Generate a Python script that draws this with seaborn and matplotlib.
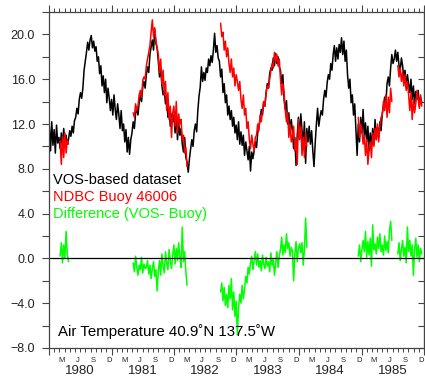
import numpy as np
import pandas as pd
import matplotlib
matplotlib.use("Agg")
import matplotlib.pyplot as plt
import matplotlib.dates as mdates
import matplotlib.ticker as mticker
from matplotlib.transforms import blended_transform_factory
import seaborn as sns

# Weekly air temperature (deg C), weeks counted from 1980-01-03, 52 per year
vos_1980 = [11.8, 9.6, 12.2, 10.1, 11.5, 9.4, 11.9, 10.3, 10.8, 9.8,
            11.2, 10.0, 11.6, 10.4, 11.0, 10.2,
            10.6, 11.4, 10.9, 11.8, 11.2, 12.3,
            12.6, 13.4, 12.9, 14.2, 14.8, 14.3,
            15.2, 16.8, 17.6, 18.4, 19.3,
            18.6, 19.5, 19.9, 18.8, 19.4, 18.5,
            18.9, 17.6, 18.0, 16.5, 17.2, 15.4, 16.3,
            14.8, 16.0, 13.9, 15.2, 14.3, 13.2]
vos_1981 = [14.2, 12.8, 14.6, 13.3, 12.4, 13.8,
            12.9, 11.6, 13.2, 11.4, 12.0,
            10.4, 11.5, 9.5, 10.8, 9.3, 10.6, 11.2,
            12.2, 11.6, 12.9, 13.5, 12.8,
            13.9, 14.6, 14.0, 15.3, 15.8,
            15.2, 16.4, 17.1, 16.6, 18.2, 18.9,
            19.5, 18.6, 20.4, 19.2, 18.8,
            17.6, 16.2, 17.0, 15.4, 14.6,
            15.0, 13.8, 14.5, 12.6, 13.4, 11.8, 12.9, 12.2]
vos_1982 = [12.8, 11.2, 13.0, 10.6, 12.1, 11.0,
            11.6, 10.2, 9.5, 10.8, 9.0, 8.6, 7.7,
            8.9, 9.8, 10.6, 10.0, 11.4,
            12.0, 11.3, 13.2, 14.5, 15.3,
            17.1, 15.8, 16.6, 15.9, 17.0,
            16.6, 17.8, 17.2, 18.1, 17.5,
            18.6, 20.1, 18.4, 19.0, 17.9,
            17.6, 16.2, 16.9, 14.8, 15.6,
            13.9, 14.6, 12.8, 13.6, 12.4,
            13.2, 11.8, 12.6, 11.2]
vos_1983 = [11.9, 10.6, 12.2, 10.2, 11.3,
            10.1, 11.0, 9.2, 10.4, 9.6,
            8.8, 10.0, 7.8, 9.5, 8.9,
            9.6, 10.4, 9.9, 11.2, 11.8,
            12.4, 13.3, 12.8, 14.0, 13.6,
            14.8, 15.6, 15.2, 16.5, 17.0,
            16.8, 17.9, 17.2, 18.3, 17.4, 18.0,
            17.1, 16.8, 15.6, 16.4, 14.2,
            13.3, 14.1, 12.0, 13.0, 11.2, 12.4,
            11.4, 9.8, 10.8, 8.3, 11.0]
vos_1984 = [12.6, 10.8, 12.9, 11.4, 10.2,
            12.2, 8.5, 11.6, 10.4, 11.8,
            10.2, 11.4, 9.6, 8.2, 10.3,
            12.0, 13.4, 11.8, 12.6, 13.2,
            12.8, 14.2, 15.0, 14.4, 15.7,
            16.4, 16.0, 17.4, 16.8, 18.2,
            19.0, 17.6, 18.8, 17.8, 19.1,
            18.4, 19.7, 18.2, 19.4, 17.6,
            18.6, 16.4, 15.2, 16.0, 13.9,
            14.6, 12.8, 13.8, 11.4, 9.2, 12.0, 10.4]
vos_1985 = [12.6, 11.2, 13.3, 10.8, 12.1,
            10.4, 11.8, 9.6, 11.2, 10.0,
            11.6, 10.2, 12.4, 10.6, 11.7,
            10.8, 12.2, 11.4, 12.9, 13.6,
            14.4, 13.8, 15.6, 16.2, 15.4,
            17.0, 18.2, 17.4, 17.8, 18.6,
            17.6, 18.4, 17.2, 16.8, 17.9,
            17.2, 16.0, 16.8, 15.2, 16.4,
            15.6, 14.8, 16.0, 14.2, 15.4, 13.8, 14.9,
            14.2, 15.0, 13.6, 14.4, 13.9]

# NDBC buoy 46006 segments (first week index of each segment)
buoy_start = [9, 70, 143, 258, 291]
buoy_1980 = [10.5, 8.4, 10.9, 9.0, 11.2, 9.4, 10.6, 10.2]
buoy_1981 = [13.0, 12.6, 13.8, 13.2, 13.6,
             14.6, 15.0, 14.4, 15.9, 16.2,
             16.0, 17.2, 17.8, 18.4, 19.0, 20.2,
             21.3, 19.8, 20.6, 19.4, 18.8,
             18.2, 16.6, 17.8, 15.6, 16.8,
             14.6, 15.8, 13.2, 14.8, 12.4, 13.6, 10.8, 13.0,
             13.6, 11.8, 14.0, 11.2, 12.9, 12.0,
             12.4, 10.6, 11.0, 9.4, 9.9, 8.2]
buoy_1982 = [21.0, 19.8, 20.2, 18.6, 19.4,
             18.0, 18.8, 17.4, 16.6, 17.8,
             16.2, 17.0, 15.4, 16.4, 15.8,
             15.0, 15.8, 14.2, 13.4, 14.6,
             12.8, 13.4, 11.6, 12.2, 10.6,
             9.8, 11.0, 10.2, 9.6, 10.8,
             11.0, 12.0, 11.4, 12.8, 12.2,
             13.2, 14.0, 13.6, 14.8, 15.4,
             15.2, 16.0, 16.8, 17.4, 17.0,
             18.4, 17.6, 18.2, 17.2, 17.8,
             16.0, 14.6, 15.6, 14.8, 13.2,
             12.2, 13.0, 10.8, 12.0, 10.4,
             11.0, 11.8, 9.6, 10.6, 8.4,
             12.4, 10.6, 11.8, 9.2, 10.8, 9.0, 11.2, 10.0]
buoy_1984 = [12.6, 10.8, 12.0, 11.4, 10.2,
             11.0, 9.2, 10.6, 8.4, 9.8,
             10.4, 9.0, 11.2, 10.0, 11.6,
             10.6, 12.0, 10.4, 11.8, 12.6,
             12.8, 14.0, 13.2, 14.6, 12.6,
             14.4, 13.0, 15.2, 14.0]
buoy_1985 = [17.2, 16.2, 17.0, 15.8, 16.6, 15.4, 16.4, 15.0, 15.8, 14.6,
             13.2, 14.8, 12.4, 14.2, 13.0, 13.8, 15.0, 14.2, 13.4, 14.6, 13.6]

# Difference VOS - buoy, same segments
diff_1980 = [0.2, 1.4, -0.4, 1.2, 0.0, 2.4, 0.4, -0.3]
diff_1981 = [-0.4, -1.2, 0.2, -0.8, -1.5, -0.6, -1.0, 0.1, -1.3, -0.5, -0.9,
             -0.8, -0.2, -1.4, -0.6, -1.8, -0.9, -0.3, -1.6, -1.0, -2.9,
             -1.1, -0.2, -1.5, 0.4, -0.7, -1.3, 0.6, -0.4, -1.0, 0.8, -0.2, -0.9,
             0.3, 1.2, -0.5, 0.9, -0.2, 1.4, 0.1, -0.8, 2.8, -0.3, 0.6, -1.2, -2.4]
diff_1982 = [-3.0, -2.2, -3.8, -2.6, -4.2,
             -3.2, -4.4, -2.4, -3.6, -1.8,
             -4.6, -3.0, -5.2, -3.8, -6.8,
             -4.4, -3.2, -4.0, -2.4, -3.6,
             -2.8, -1.6, -2.2, -0.8, -1.4,
             -0.4, 0.2, -1.0, -0.2, 0.6,
             -0.6, 0.4, -0.8, -0.2, -1.1, 0.3, -0.5, -0.9, 0.1, -0.7,
             -0.3, -1.2, 0.5, -0.6, -0.1, -1.5, -0.4, 0.6, -0.8, 0.2,
             0.8, 1.9, 0.3, 1.2, 0.5, 2.2, 0.9, 1.4, 0.2, 1.0,
             0.6, -2.0, 0.4, 1.5, -0.3, 0.9, 1.3,
             0.5, 1.4, -0.6, 0.8, 3.6, 1.0]
diff_1984 = [0.2, 1.2, -0.3, 0.8, 1.6, 0.6, 2.4, 0.1, 1.5, 0.3,
             1.8, -0.7, 3.0, 0.8, 1.3, 0.4, 1.9, 0.9, 2.2, 0.6,
             1.2, 0.3, 2.0, 0.7, 1.5, 0.5, 2.4, 3.3, 1.6]
diff_1985 = [0.4, 1.4, -0.2, 0.8, 1.6, 0.2, 1.0, -0.4, 2.8, 0.6,
             1.6, 0.2, 1.2, -1.5, 0.8, 1.8, 0.1, 1.2, -0.3, 0.9, 0.4]

years = [1980, 1981, 1982, 1983, 1984, 1985]
month_letters = {3: "M", 6: "J", 9: "S", 12: "D"}

start = pd.Timestamp("1980-01-03")


def week_dates(first, n):
    return start + pd.to_timedelta(7 * (first + np.arange(n)), unit="D")


def segments(starts, parts, name):
    frames = []
    for k, (s, vals) in enumerate(zip(starts, parts)):
        frames.append(pd.DataFrame({"date": week_dates(s, len(vals)),
                                    name: vals, "seg": k}))
    return pd.concat(frames, ignore_index=True)


vos_all = vos_1980 + vos_1981 + vos_1982 + vos_1983 + vos_1984 + vos_1985
vos = pd.DataFrame({"date": week_dates(0, len(vos_all)), "temp": vos_all})
buoy = segments(buoy_start, [buoy_1980, buoy_1981, buoy_1982, buoy_1984, buoy_1985], "temp")
diff = segments(buoy_start, [diff_1980, diff_1981, diff_1982, diff_1984, diff_1985], "diff")

sns.set_style("ticks")
plt.rcParams["font.family"] = ["Liberation Sans", "DejaVu Sans"]

fig = plt.figure(figsize=(4.25, 3.76), dpi=100)
ax = fig.add_axes([49 / 425, 28 / 376, 375 / 425, 336 / 376])

sns.lineplot(data=vos, x="date", y="temp", estimator=None, color="black", lw=1.1, ax=ax)
sns.lineplot(data=buoy, x="date", y="temp", units="seg", estimator=None,
             color="#ff0000", lw=1.1, ax=ax)
sns.lineplot(data=diff, x="date", y="diff", units="seg", estimator=None,
             color="#00ff00", lw=1.1, ax=ax)
ax.axhline(0, color="black", lw=0.9)

ax.set_xlim(pd.Timestamp("1980-01-01"), pd.Timestamp("1986-01-01"))
ax.set_ylim(-8, 22)
ax.set_xlabel("")
ax.set_ylabel("")

for s in ax.spines.values():
    s.set_color("#444444")
    s.set_linewidth(0.9)

ax.xaxis.set_major_locator(mdates.YearLocator())
ax.xaxis.set_minor_locator(mdates.MonthLocator())
ax.xaxis.set_major_formatter(mticker.NullFormatter())
ax.tick_params(axis="x", which="major", length=5, width=0.8, direction="out",
               top=True, bottom=True, labelbottom=False, color="#444444")
ax.tick_params(axis="x", which="minor", length=3, width=0.7, direction="out",
               top=True, bottom=True, color="#444444")

ax.yaxis.set_major_locator(mticker.MultipleLocator(4))
ax.yaxis.set_minor_locator(mticker.MultipleLocator(2))
ax.yaxis.set_major_formatter(mticker.FuncFormatter(
    lambda v, p: f"{v:.1f}".replace("-", "\u2212")))
ax.tick_params(axis="y", which="both", length=5, width=0.8, direction="out",
               left=True, right=False, color="#444444", labelsize=9,
               labelcolor="#222222", pad=5)

ry = ax.secondary_yaxis("right")
ry.yaxis.set_major_locator(mticker.MultipleLocator(2))
ry.tick_params(axis="y", which="both", length=4, width=0.8, direction="in",
               labelright=False, color="#444444")
ry.spines["right"].set_color("#444444")

trans = blended_transform_factory(ax.transData, ax.transAxes)
for yr in years:
    for m, letter in month_letters.items():
        ax.text(mdates.date2num(pd.Timestamp(yr, m, 15)), -0.036, letter,
                transform=trans, ha="center", va="center", fontsize=5.5,
                color="#222222")
    ax.text(mdates.date2num(pd.Timestamp(yr, 7, 1)), -0.067, str(yr),
            transform=trans, ha="center", va="center", fontsize=9.5,
            color="#222222")

ax.text(0.011, 0.50, "VOS-based dataset", transform=ax.transAxes,
        fontsize=10.5, color="black", va="center")
ax.text(0.011, 0.449, "NDBC Buoy 46006", transform=ax.transAxes,
        fontsize=10.5, color="#ff0000", va="center")
ax.text(0.011, 0.399, "Difference (VOS- Buoy)", transform=ax.transAxes,
        fontsize=10.5, color="#00ff00", va="center")
ax.text(0.024, 0.048, "Air Temperature 40.9\u02daN 137.5\u02daW",
        transform=ax.transAxes, fontsize=10.8, color="black", va="center")

fig.savefig("out.png", dpi=100)
